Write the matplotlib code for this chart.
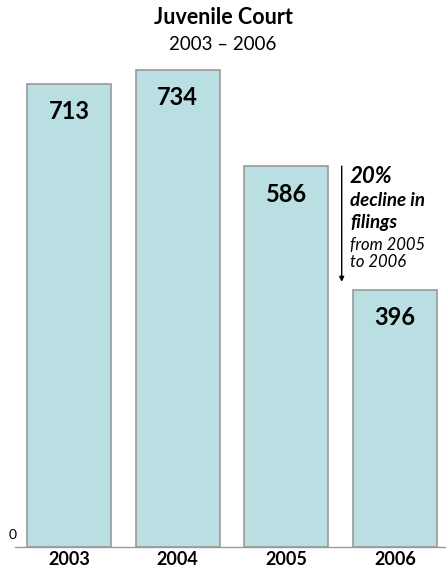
import matplotlib

matplotlib.use("Agg")
import matplotlib.pyplot as plt

years = ["2003", "2004", "2005", "2006"]
filings = [713, 734, 586, 396]

BAR = "#b9dfe2"
EDGE = "#9a9a9a"
FONT = ["Lato", "DejaVu Sans"]

plt.rcParams["font.family"] = FONT

fig = plt.figure(figsize=(4.46, 5.73), dpi=100)
W, H = 446, 573
# axes placed in pixel terms: baseline at y=547, left edge at x=15
ax = fig.add_axes([15 / W, (H - 547) / H, 431 / W, 487.5 / H])
x = list(range(len(years)))
ax.bar(x, filings, width=0.773, color=BAR, edgecolor=EDGE, linewidth=1.2, zorder=2)
ax.set_xlim(-0.497, 3.47)
ax.set_ylim(0, 750)

for xi, v in zip(x, filings):
    ax.text(xi, v - 43, f"{v}", ha="center", va="center",
            fontsize=17, fontweight="bold", color="black")

for s in ("top", "right", "left"):
    ax.spines[s].set_visible(False)
ax.spines["bottom"].set_color("#999999")
ax.spines["bottom"].set_linewidth(1.0)
ax.set_yticks([])
ax.text(-0.52, 18, "0", ha="center", va="center", fontsize=10)
ax.set_xticks(x)
ax.set_xticklabels(years, fontsize=13, fontweight="bold")
ax.tick_params(axis="x", length=0, pad=3)

# decline annotation between 2005 and 2006
ax.annotate("", xy=(2.51, filings[3] + 12), xytext=(2.51, filings[2]),
            arrowprops=dict(arrowstyle="-|>", color="black", lw=1.0,
                            mutation_scale=7, shrinkA=0, shrinkB=0))
tx = 2.585
ax.text(tx, 570, "20%", ha="left", va="center", fontsize=16,
        fontweight="bold", style="italic")
ax.text(tx, 533, "decline in", ha="left", va="center", fontsize=13.5,
        fontweight="bold", style="italic")
ax.text(tx, 499, "filings", ha="left", va="center", fontsize=13.5,
        fontweight="bold", style="italic")
ax.text(tx, 465, "from 2005", ha="left", va="center", fontsize=12,
        style="italic")
ax.text(tx, 439, "to 2006", ha="left", va="center", fontsize=12,
        style="italic")

fig.text(223 / W, 1 - 18 / H, "Juvenile Court", ha="center", va="center",
         fontsize=15.5, fontweight="bold")
fig.text(223 / W, 1 - 44 / H, "2003 \u2013 2006", ha="center", va="center",
         fontsize=13.5)

fig.savefig("out.png", dpi=100)
